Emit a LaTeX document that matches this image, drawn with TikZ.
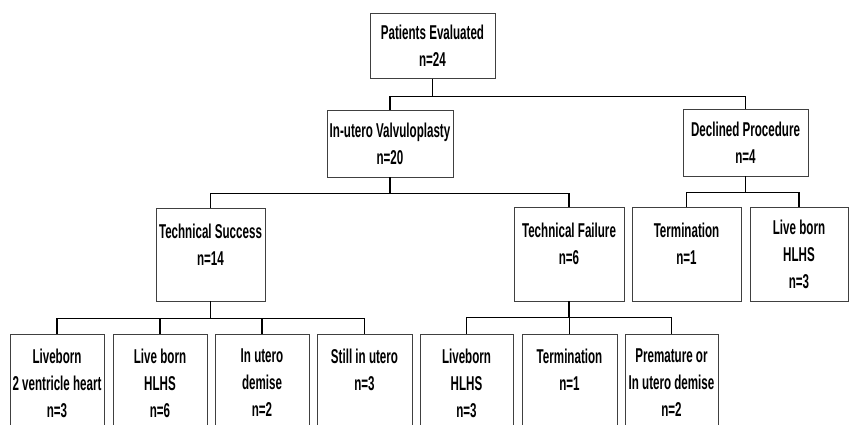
\documentclass[tikz,border=0pt]{standalone}
\usepackage{fontspec}
\newfontfamily\chartfont{Liberation Sans}[FakeStretch=0.58]
\usetikzlibrary{positioning,calc}
\tikzset{
	chart/.style={x=1pt,y=-1pt,line join=miter},
	box/.style={draw=black!75,line width=0.7pt,align=center,inner sep=2pt,
		font=\chartfont\bfseries\fontsize{20}{27}\selectfont},
	link/.style={line width=1.2pt}
}

\begin{document}
\begin{tikzpicture}[chart]
	\useasboundingbox (0,0) rectangle (850,424);
	
	% top and first split
	\node[box,minimum width=125,minimum height=65] (pe) at (432.5,46) {Patients Evaluated\\n=24};
	\node[box,minimum width=126,minimum height=67] (iv) at (390,143.5) {In-utero Valvuloplasty\\n=20};
	\node[box,minimum width=125,minimum height=67] (dp) at (745.5,142.5) {Declined Procedure\\n=4};
	
	% second level
	\node[box,minimum width=109,minimum height=93] (ts) at (210.5,254.5) {\rule{0pt}{21pt}Technical Success\\n=14\\\phantom{n}};
	\node[box,minimum width=110,minimum height=94] (tf) at (569,254) {\rule{0pt}{21pt}Technical Failure\\n=6\\\phantom{n}};
	\node[box,minimum width=109,minimum height=94] (dt) at (686.5,254) {\rule{0pt}{21pt}Termination\\n=1\\\phantom{n}};
	\node[box,minimum width=98,minimum height=94] (dl) at (799,254) {Live born\\HLHS\\n=3};
	
	% outcomes (boxes run off the bottom)
	\node[box,minimum width=94,minimum height=98] (s1) at (57,383) {Liveborn\\2 ventricle heart\\n=3};
	\node[box,minimum width=94,minimum height=98] (s2) at (160,383) {Live born\\HLHS\\n=6};
	\node[box,minimum width=94,minimum height=98] (s3) at (262,383) {In utero\\demise\\n=2};
	\node[box,minimum width=95,minimum height=98] (s4) at (364.5,383) {Still in utero\\n=3\\\phantom{n}};
	\node[box,minimum width=93,minimum height=98] (f1) at (466.5,383) {Liveborn\\HLHS\\n=3};
	\node[box,minimum width=95,minimum height=98] (f2) at (569.5,383) {Termination\\n=1\\\phantom{n}};
	\node[box,minimum width=93,minimum height=98] (f3) at (671.5,383) {Premature or\\In utero demise\\n=2};
	
	\foreach \c in {iv,dp}
		\draw[link] (pe.south) -- ++(0,18) -| (\c.north);
	\foreach \c in {ts,tf}
		\draw[link] (iv.south) -- ++(0,16) -| (\c.north);
	\foreach \c in {dt,dl}
		\draw[link] (dp.south) -- ++(0,16) -| (\c.north);
	\foreach \c in {s1,s2,s3,s4}
		\draw[link] (ts.south) -- ++(0,17) -| (\c.north);
	\foreach \c in {f1,f2,f3}
		\draw[link] (tf.south) -- ++(0,16) -| (\c.north);
\end{tikzpicture}
\end{document}
